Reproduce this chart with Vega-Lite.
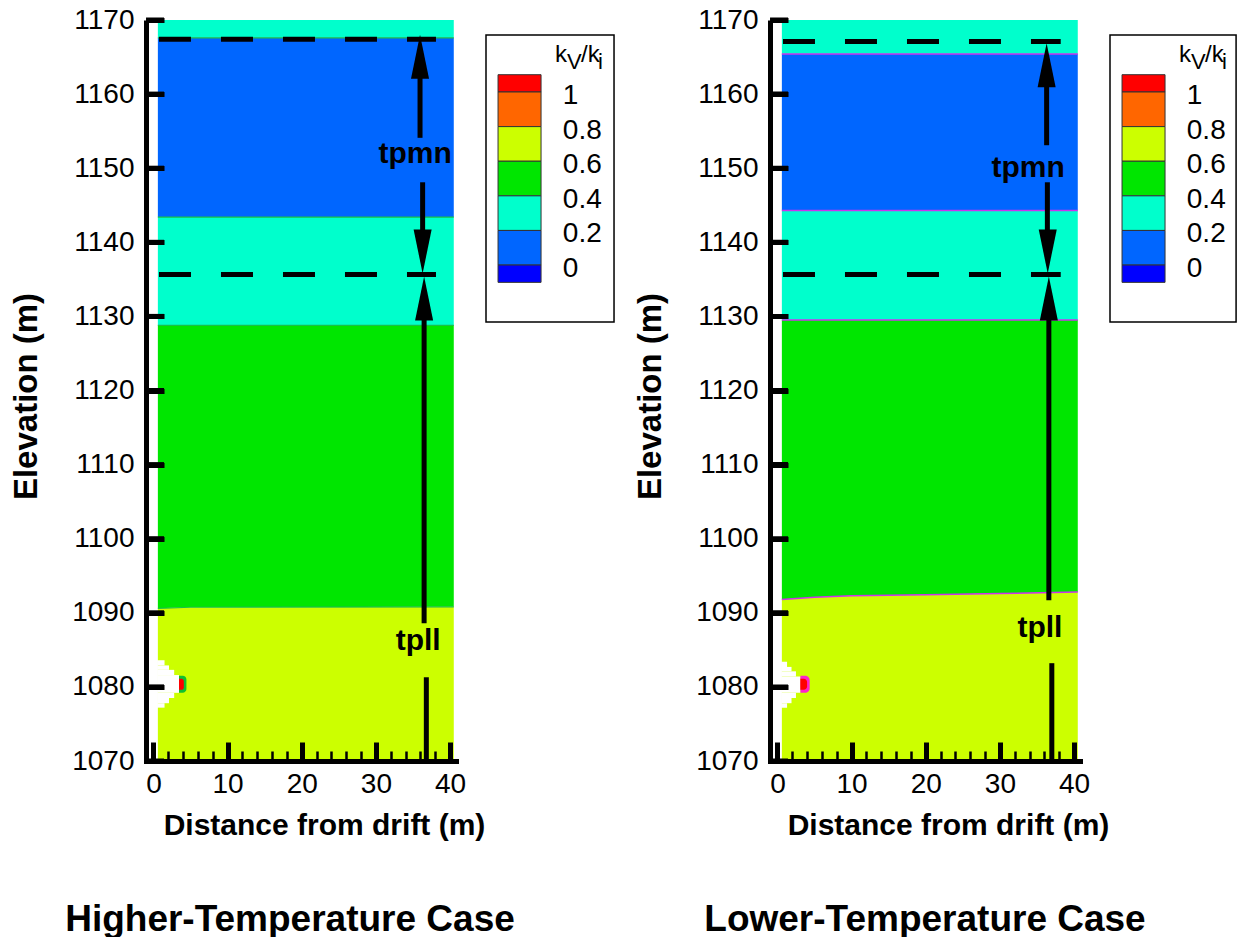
{
  "$schema": "https://vega.github.io/schema/vega-lite/v6.json",
  "padding": {"left": 10, "top": 6, "right": 0, "bottom": 0},
  "background": "white",
  "config": {
    "view": {"stroke": null},
    "text": {"font": "Liberation Sans"}
  },
  "spacing": 30,
  "bounds": "flush",
  "hconcat": [
    {
      "width": 310,
      "height": 741,
      "title": {"text": "Higher-Temperature Case", "orient": "bottom", "frame": "group", "anchor": "middle", "dx": -11, "offset": 62, "fontSize": 37, "font": "Liberation Sans", "fontWeight": "bold", "color": "black"},
      "encoding": {
        "x": {"field": "x", "type": "quantitative", "scale": {"domain": [-1, 40.8], "nice": false, "zero": false},
          "axis": {"title": "Distance from drift (m)", "values": [0,2,4,6,8,10,12,14,16,18,20,22,24,26,28,30,32,34,36,38,40],
            "labelExpr": "datum.value % 10 === 0 ? datum.label : ''", "format": "d", "zindex": 1,
            "tickSize": {"condition": {"test": "datum.value % 10 === 0", "value": -19}, "value": -10},
            "tickWidth": {"condition": {"test": "datum.value % 10 === 0", "value": 5}, "value": 2.5},
            "tickColor": "black", "domainColor": "black", "domainWidth": 5, "domainCap": "square",
            "labelFontSize": 28, "labelFont": "Liberation Sans", "labelColor": "black", "labelPadding": 28,
            "titleFontSize": 30, "titleFont": "Liberation Sans", "titleFontWeight": "bold", "titleColor": "black",
            "titleX": 178, "titleY": 73, "titleBaseline": "alphabetic", "titleAlign": "center",
            "grid": false, "labelOverlap": false, "labelFlush": false}},
        "y": {"field": "y", "type": "quantitative", "scale": {"domain": [1070, 1170], "nice": false, "zero": false},
          "axis": {"title": "Elevation (m)", "values": [1070,1080,1090,1100,1110,1120,1130,1140,1150,1160,1170], "format": "d", "zindex": 1,
            "tickSize": -18, "tickWidth": 5, "tickColor": "black", "domainColor": "black", "domainWidth": 5,
            "labelFontSize": 28, "labelFont": "Liberation Sans", "labelColor": "black", "labelPadding": 30,
            "titleFontSize": 33, "titleFont": "Liberation Sans", "titleFontWeight": "bold", "titleColor": "black",
            "titleX": -110, "titleY": 376, "titleAngle": 270, "titleBaseline": "alphabetic", "titleAlign": "center",
            "grid": false}}
      },
      "layer": [
        {
          "data": {"values": [
            {"seg": "L1", "band": "0.2-0.4", "x": 0.6, "y": 1170, "y2": 1167.6},
            {"seg": "L1", "band": "0.2-0.4", "x": 40.5, "y": 1170, "y2": 1167.6},
            {"seg": "L2", "band": "0-0.2", "x": 0.6, "y": 1167.6, "y2": 1143.4},
            {"seg": "L2", "band": "0-0.2", "x": 40.5, "y": 1167.6, "y2": 1143.4},
            {"seg": "L3", "band": "0.2-0.4", "x": 0.6, "y": 1143.4, "y2": 1128.8},
            {"seg": "L3", "band": "0.2-0.4", "x": 40.5, "y": 1143.4, "y2": 1128.8},
            {"seg": "L4", "band": "0.4-0.6", "x": 0.6, "y": 1128.8, "y2": 1090.6},
            {"seg": "L4", "band": "0.4-0.6", "x": 5, "y": 1128.8, "y2": 1090.75},
            {"seg": "L4", "band": "0.4-0.6", "x": 40.5, "y": 1128.8, "y2": 1090.8},
            {"seg": "L5", "band": "0.6-0.8", "x": 0.6, "y": 1090.6, "y2": 1070},
            {"seg": "L5", "band": "0.6-0.8", "x": 5, "y": 1090.75, "y2": 1070},
            {"seg": "L5", "band": "0.6-0.8", "x": 40.5, "y": 1090.8, "y2": 1070}
          ]},
          "mark": {"type": "area", "orient": "vertical"},
          "encoding": {
            "y2": {"field": "y2"},
            "color": {"field": "band", "type": "nominal", "legend": null,
              "scale": {"domain": ["<0","0-0.2","0.2-0.4","0.4-0.6","0.6-0.8","0.8-1",">1"], "range": ["#0000FF","#0066FF","#00FFCC","#00E600","#CCFF00","#FF6600","#FF0000"]}},
            "detail": {"field": "seg"}
          }
        },
        {
          "data": {"values": [
            {"seg": "a", "x": 0.6, "y": 1167.6}, {"seg": "a", "x": 40.5, "y": 1167.6},
            {"seg": "b", "x": 0.6, "y": 1143.4}, {"seg": "b", "x": 40.5, "y": 1143.4},
            {"seg": "c", "x": 0.6, "y": 1128.8}, {"seg": "c", "x": 40.5, "y": 1128.8},
            {"seg": "d", "x": 0.6, "y": 1090.6}, {"seg": "d", "x": 5, "y": 1090.75}, {"seg": "d", "x": 40.5, "y": 1090.8}
          ]},
          "mark": {"type": "line", "color": "#18C048", "strokeWidth": 1.2},
          "encoding": {"detail": {"field": "seg"}}
        },
        {
          "data": {"values": [
            {"x": 0.5, "x2": 1.5, "y": 1083.6, "y2": 1082.9},
            {"x": 0.5, "x2": 2.1, "y": 1082.9, "y2": 1082.3},
            {"x": 0.5, "x2": 2.8, "y": 1082.3, "y2": 1081.6},
            {"x": 0.5, "x2": 3.45, "y": 1081.6, "y2": 1079.2},
            {"x": 0.5, "x2": 2.8, "y": 1079.2, "y2": 1078.5},
            {"x": 0.5, "x2": 2.1, "y": 1078.5, "y2": 1077.8},
            {"x": 0.5, "x2": 1.5, "y": 1077.8, "y2": 1077.2}
          ]},
          "mark": {"type": "rect", "color": "white"},
          "encoding": {"x2": {"field": "x2"}, "y2": {"field": "y2"}}
        },
        {
          "data": {"values": [{"x": 3.45, "x2": 4.45, "y": 1081.5, "y2": 1079.2}]},
          "mark": {"type": "rect", "color": "#10C030", "cornerRadiusTopRight": 6, "cornerRadiusBottomRight": 6},
          "encoding": {"x2": {"field": "x2"}, "y2": {"field": "y2"}}
        },
        {
          "data": {"values": [{"x": 3.45, "x2": 4.1, "y": 1081.1, "y2": 1079.6}]},
          "mark": {"type": "rect", "color": "#FF0000", "cornerRadiusTopRight": 4, "cornerRadiusBottomRight": 4},
          "encoding": {"x2": {"field": "x2"}, "y2": {"field": "y2"}}
        },
        {
          "data": {"values": [
            {"x": 0.22, "y": 1070}, {"x": 0.22, "y": 1080}, {"x": 0.22, "y": 1090}, {"x": 0.22, "y": 1100},
            {"x": 0.22, "y": 1110}, {"x": 0.22, "y": 1120}, {"x": 0.22, "y": 1130}, {"x": 0.22, "y": 1140},
            {"x": 0.22, "y": 1150}, {"x": 0.22, "y": 1160}, {"x": 0.22, "y": 1170}
          ]},
          "mark": {"type": "tick", "orient": "horizontal", "color": "black", "size": 18, "thickness": 5, "opacity": 1}
        },
        {
          "data": {"values": [{"x": 0.75, "x2": 38.1, "y": 1167.4}, {"x": 0.75, "x2": 38.1, "y": 1135.65}]},
          "mark": {"type": "rule", "color": "black", "strokeWidth": 5, "strokeDash": [32, 30], "strokeCap": "butt"},
          "encoding": {"x2": {"field": "x2"}}
        },
        {
          "data": {"values": [
            {"x": 35.95, "y": 1154.1, "y2": 1164},
            {"x": 36.3, "y": 1148.1, "y2": 1138},
            {"x": 36.5, "y": 1088.6, "y2": 1132},
            {"x": 36.8, "y": 1081.3, "y2": 1070}
          ]},
          "mark": {"type": "rule", "color": "black", "strokeWidth": 5},
          "encoding": {"y2": {"field": "y2"}}
        },
        {
          "data": {"values": [
            {"x": 35.95, "y": 1168.0, "dir": "up"},
            {"x": 36.3, "y": 1135.8, "dir": "down"},
            {"x": 36.5, "y": 1135.4, "dir": "up"}
          ]},
          "mark": {"type": "point", "filled": true, "color": "black", "opacity": 1, "size": 1936, "strokeWidth": 0},
          "encoding": {"shape": {"field": "dir", "type": "nominal", "legend": null,
            "scale": {"domain": ["up", "down"], "range": ["M0,0L0.41,2L-0.41,2Z", "M0,0L0.41,-2L-0.41,-2Z"]}}}
        },
        {
          "data": {"values": [
            {"x": 35.3, "y": 1150.7, "label": "tpmn"},
            {"x": 35.7, "y": 1085.0, "label": "tpll"}
          ]},
          "mark": {"type": "text", "font": "Liberation Sans", "fontSize": 30, "fontWeight": "bold", "color": "black", "align": "center", "baseline": "alphabetic"},
          "encoding": {"text": {"field": "label"}}
        }
      ]
    },
    {
      "width": 254,
      "height": 302,
      "layer": [
        {
          "data": {"values": [{}]},
          "mark": {"type": "rect", "fill": "white", "stroke": "black", "strokeWidth": 1.5},
          "encoding": {
            "x": {"datum": 0, "type": "quantitative", "scale": {"domain": [0, 1.984], "nice": false, "zero": false}, "axis": null},
            "x2": {"datum": 1},
            "y": {"datum": -0.329, "type": "quantitative", "scale": {"domain": [-0.329, 1.416], "nice": false, "zero": false}, "axis": null},
            "y2": {"datum": 1.329}
          }
        },
        {
          "data": {"values": [
            {"band": ">1", "lo": 1.0, "hi": 1.1},
            {"band": "0.8-1", "lo": 0.8, "hi": 1.0},
            {"band": "0.6-0.8", "lo": 0.6, "hi": 0.8},
            {"band": "0.4-0.6", "lo": 0.4, "hi": 0.6},
            {"band": "0.2-0.4", "lo": 0.2, "hi": 0.4},
            {"band": "0-0.2", "lo": 0.0, "hi": 0.2},
            {"band": "<0", "lo": -0.1, "hi": 0.0}
          ]},
          "mark": {"type": "rect", "stroke": "#333333", "strokeWidth": 1},
          "encoding": {
            "x": {"datum": 0.094, "type": "quantitative", "scale": {"domain": [0, 1.984], "nice": false, "zero": false}, "axis": null},
            "x2": {"datum": 0.43},
            "y": {"field": "lo", "type": "quantitative", "scale": {"domain": [-0.329, 1.416], "nice": false, "zero": false}, "axis": null},
            "y2": {"field": "hi"},
            "color": {"field": "band", "type": "nominal", "legend": null,
              "scale": {"domain": ["<0","0-0.2","0.2-0.4","0.4-0.6","0.6-0.8","0.8-1",">1"], "range": ["#0000FF","#0066FF","#00FFCC","#00E600","#CCFF00","#FF6600","#FF0000"]}}
          }
        },
        {
          "data": {"values": [
            {"v": 1.0, "t": "1"}, {"v": 0.8, "t": "0.8"}, {"v": 0.6, "t": "0.6"},
            {"v": 0.4, "t": "0.4"}, {"v": 0.2, "t": "0.2"}, {"v": 0.0, "t": "0"}
          ]},
          "mark": {"type": "text", "font": "Liberation Sans", "fontSize": 28, "color": "black", "align": "left", "baseline": "middle", "dy": 4},
          "encoding": {
            "x": {"datum": 0.6, "type": "quantitative", "scale": {"domain": [0, 1.984], "nice": false, "zero": false}, "axis": null},
            "y": {"field": "v", "type": "quantitative", "scale": {"domain": [-0.329, 1.416], "nice": false, "zero": false}, "axis": null},
            "text": {"field": "t"}
          }
        },
        {
          "data": {"values": [{"t": "k", "p": 0.539}, {"t": "/k", "p": 0.742}]},
          "mark": {"type": "text", "font": "Liberation Sans", "fontSize": 24, "color": "black", "align": "left", "baseline": "alphabetic"},
          "encoding": {
            "x": {"field": "p", "type": "quantitative", "scale": {"domain": [0, 1.984], "nice": false, "zero": false}, "axis": null},
            "y": {"datum": 1.173, "type": "quantitative", "scale": {"domain": [-0.329, 1.416], "nice": false, "zero": false}, "axis": null},
            "text": {"field": "t"}
          }
        },
        {
          "data": {"values": [{"t": "V", "p": 0.633}, {"t": "i", "p": 0.875}]},
          "mark": {"type": "text", "font": "Liberation Sans", "fontSize": 22, "color": "black", "align": "left", "baseline": "alphabetic"},
          "encoding": {
            "x": {"field": "p", "type": "quantitative", "scale": {"domain": [0, 1.984], "nice": false, "zero": false}, "axis": null},
            "y": {"datum": 1.133, "type": "quantitative", "scale": {"domain": [-0.329, 1.416], "nice": false, "zero": false}, "axis": null},
            "text": {"field": "t"}
          }
        }
      ]
    },
    {
      "width": 310,
      "height": 741,
      "title": {"text": "Lower-Temperature Case", "orient": "bottom", "frame": "group", "anchor": "middle", "dx": 0, "offset": 62, "fontSize": 37, "font": "Liberation Sans", "fontWeight": "bold", "color": "black"},
      "encoding": {
        "x": {"field": "x", "type": "quantitative", "scale": {"domain": [-1, 40.8], "nice": false, "zero": false},
          "axis": {"title": "Distance from drift (m)", "values": [0,2,4,6,8,10,12,14,16,18,20,22,24,26,28,30,32,34,36,38,40],
            "labelExpr": "datum.value % 10 === 0 ? datum.label : ''", "format": "d", "zindex": 1,
            "tickSize": {"condition": {"test": "datum.value % 10 === 0", "value": -19}, "value": -10},
            "tickWidth": {"condition": {"test": "datum.value % 10 === 0", "value": 5}, "value": 2.5},
            "tickColor": "black", "domainColor": "black", "domainWidth": 5, "domainCap": "square",
            "labelFontSize": 28, "labelFont": "Liberation Sans", "labelColor": "black", "labelPadding": 28,
            "titleFontSize": 30, "titleFont": "Liberation Sans", "titleFontWeight": "bold", "titleColor": "black",
            "titleX": 178, "titleY": 73, "titleBaseline": "alphabetic", "titleAlign": "center",
            "grid": false, "labelOverlap": false, "labelFlush": false}},
        "y": {"field": "y", "type": "quantitative", "scale": {"domain": [1070, 1170], "nice": false, "zero": false},
          "axis": {"title": "Elevation (m)", "values": [1070,1080,1090,1100,1110,1120,1130,1140,1150,1160,1170], "format": "d", "zindex": 1,
            "tickSize": -18, "tickWidth": 5, "tickColor": "black", "domainColor": "black", "domainWidth": 5,
            "labelFontSize": 28, "labelFont": "Liberation Sans", "labelColor": "black", "labelPadding": 30,
            "titleFontSize": 33, "titleFont": "Liberation Sans", "titleFontWeight": "bold", "titleColor": "black",
            "titleX": -110, "titleY": 376, "titleAngle": 270, "titleBaseline": "alphabetic", "titleAlign": "center",
            "grid": false}}
      },
      "layer": [
        {
          "data": {"values": [
            {"seg": "R1", "band": "0.2-0.4", "x": 0.6, "y": 1170, "y2": 1165.4},
            {"seg": "R1", "band": "0.2-0.4", "x": 40.5, "y": 1170, "y2": 1165.4},
            {"seg": "R2", "band": "0-0.2", "x": 0.6, "y": 1165.4, "y2": 1144.3},
            {"seg": "R2", "band": "0-0.2", "x": 40.5, "y": 1165.4, "y2": 1144.3},
            {"seg": "R3", "band": "0.2-0.4", "x": 0.6, "y": 1144.3, "y2": 1129.5},
            {"seg": "R3", "band": "0.2-0.4", "x": 40.5, "y": 1144.3, "y2": 1129.5},
            {"seg": "R4", "band": "0.4-0.6", "x": 0.6, "y": 1129.5, "y2": 1091.8},
            {"seg": "R4", "band": "0.4-0.6", "x": 5, "y": 1129.5, "y2": 1092.1},
            {"seg": "R4", "band": "0.4-0.6", "x": 10, "y": 1129.5, "y2": 1092.3},
            {"seg": "R4", "band": "0.4-0.6", "x": 20, "y": 1129.5, "y2": 1092.45},
            {"seg": "R4", "band": "0.4-0.6", "x": 30, "y": 1129.5, "y2": 1092.6},
            {"seg": "R4", "band": "0.4-0.6", "x": 40.5, "y": 1129.5, "y2": 1092.8},
            {"seg": "R5", "band": "0.6-0.8", "x": 0.6, "y": 1091.8, "y2": 1070},
            {"seg": "R5", "band": "0.6-0.8", "x": 5, "y": 1092.1, "y2": 1070},
            {"seg": "R5", "band": "0.6-0.8", "x": 10, "y": 1092.3, "y2": 1070},
            {"seg": "R5", "band": "0.6-0.8", "x": 20, "y": 1092.45, "y2": 1070},
            {"seg": "R5", "band": "0.6-0.8", "x": 30, "y": 1092.6, "y2": 1070},
            {"seg": "R5", "band": "0.6-0.8", "x": 40.5, "y": 1092.8, "y2": 1070}
          ]},
          "mark": {"type": "area", "orient": "vertical"},
          "encoding": {
            "y2": {"field": "y2"},
            "color": {"field": "band", "type": "nominal", "legend": null,
              "scale": {"domain": ["<0","0-0.2","0.2-0.4","0.4-0.6","0.6-0.8","0.8-1",">1"], "range": ["#0000FF","#0066FF","#00FFCC","#00E600","#CCFF00","#FF6600","#FF0000"]}},
            "detail": {"field": "seg"}
          }
        },
        {
          "data": {"values": [
            {"seg": "a", "x": 0.6, "y": 1165.4}, {"seg": "a", "x": 40.5, "y": 1165.4},
            {"seg": "b", "x": 0.6, "y": 1144.3}, {"seg": "b", "x": 40.5, "y": 1144.3},
            {"seg": "c", "x": 0.6, "y": 1129.5}, {"seg": "c", "x": 40.5, "y": 1129.5},
            {"seg": "d", "x": 0.6, "y": 1091.8}, {"seg": "d", "x": 5, "y": 1092.1}, {"seg": "d", "x": 10, "y": 1092.3},
            {"seg": "d", "x": 20, "y": 1092.45}, {"seg": "d", "x": 30, "y": 1092.6}, {"seg": "d", "x": 40.5, "y": 1092.8}
          ]},
          "mark": {"type": "line", "color": "#CC33EE", "strokeWidth": 1.5},
          "encoding": {"detail": {"field": "seg"}}
        },
        {
          "data": {"values": [
            {"x": 0.5, "x2": 1.3, "y": 1083.4, "y2": 1082.7},
            {"x": 0.5, "x2": 1.9, "y": 1082.7, "y2": 1082.1},
            {"x": 0.5, "x2": 2.5, "y": 1082.1, "y2": 1081.4},
            {"x": 0.5, "x2": 3.1, "y": 1081.4, "y2": 1079.2},
            {"x": 0.5, "x2": 2.5, "y": 1079.2, "y2": 1078.5},
            {"x": 0.5, "x2": 1.9, "y": 1078.5, "y2": 1077.8},
            {"x": 0.5, "x2": 1.3, "y": 1077.8, "y2": 1077.2}
          ]},
          "mark": {"type": "rect", "color": "white"},
          "encoding": {"x2": {"field": "x2"}, "y2": {"field": "y2"}}
        },
        {
          "data": {"values": [{"x": 3.1, "x2": 4.35, "y": 1081.5, "y2": 1079.2}]},
          "mark": {"type": "rect", "color": "#FF22CC", "cornerRadiusTopRight": 6, "cornerRadiusBottomRight": 6},
          "encoding": {"x2": {"field": "x2"}, "y2": {"field": "y2"}}
        },
        {
          "data": {"values": [{"x": 3.1, "x2": 4.0, "y": 1081.1, "y2": 1079.6}]},
          "mark": {"type": "rect", "color": "#FF0000", "cornerRadiusTopRight": 4, "cornerRadiusBottomRight": 4},
          "encoding": {"x2": {"field": "x2"}, "y2": {"field": "y2"}}
        },
        {
          "data": {"values": [
            {"x": 0.22, "y": 1070}, {"x": 0.22, "y": 1080}, {"x": 0.22, "y": 1090}, {"x": 0.22, "y": 1100},
            {"x": 0.22, "y": 1110}, {"x": 0.22, "y": 1120}, {"x": 0.22, "y": 1130}, {"x": 0.22, "y": 1140},
            {"x": 0.22, "y": 1150}, {"x": 0.22, "y": 1160}, {"x": 0.22, "y": 1170}
          ]},
          "mark": {"type": "tick", "orient": "horizontal", "color": "black", "size": 18, "thickness": 5, "opacity": 1}
        },
        {
          "data": {"values": [{"x": 0.75, "x2": 38.2, "y": 1167.1}, {"x": 0.75, "x2": 38.2, "y": 1135.65}]},
          "mark": {"type": "rule", "color": "black", "strokeWidth": 5, "strokeDash": [32, 30], "strokeCap": "butt"},
          "encoding": {"x2": {"field": "x2"}}
        },
        {
          "data": {"values": [
            {"x": 36.3, "y": 1153.1, "y2": 1164},
            {"x": 36.4, "y": 1148.1, "y2": 1138},
            {"x": 36.6, "y": 1091.7, "y2": 1132},
            {"x": 37.0, "y": 1083.2, "y2": 1070}
          ]},
          "mark": {"type": "rule", "color": "black", "strokeWidth": 5},
          "encoding": {"y2": {"field": "y2"}}
        },
        {
          "data": {"values": [
            {"x": 36.3, "y": 1166.85, "dir": "up"},
            {"x": 36.45, "y": 1135.8, "dir": "down"},
            {"x": 36.6, "y": 1135.4, "dir": "up"}
          ]},
          "mark": {"type": "point", "filled": true, "color": "black", "opacity": 1, "size": 1936, "strokeWidth": 0},
          "encoding": {"shape": {"field": "dir", "type": "nominal", "legend": null,
            "scale": {"domain": ["up", "down"], "range": ["M0,0L0.41,2L-0.41,2Z", "M0,0L0.41,-2L-0.41,-2Z"]}}}
        },
        {
          "data": {"values": [
            {"x": 33.8, "y": 1148.8, "label": "tpmn"},
            {"x": 35.4, "y": 1086.7, "label": "tpll"}
          ]},
          "mark": {"type": "text", "font": "Liberation Sans", "fontSize": 30, "fontWeight": "bold", "color": "black", "align": "center", "baseline": "alphabetic"},
          "encoding": {"text": {"field": "label"}}
        }
      ]
    },
    {
      "width": 128,
      "height": 302,
      "layer": [
        {
          "data": {"values": [{}]},
          "mark": {"type": "rect", "fill": "white", "stroke": "black", "strokeWidth": 1.5},
          "encoding": {
            "x": {"datum": 0, "type": "quantitative", "scale": {"domain": [0, 1], "nice": false, "zero": false}, "axis": null},
            "x2": {"datum": 0.985},
            "y": {"datum": -0.329, "type": "quantitative", "scale": {"domain": [-0.329, 1.416], "nice": false, "zero": false}, "axis": null},
            "y2": {"datum": 1.329}
          }
        },
        {
          "data": {"values": [
            {"band": ">1", "lo": 1.0, "hi": 1.1},
            {"band": "0.8-1", "lo": 0.8, "hi": 1.0},
            {"band": "0.6-0.8", "lo": 0.6, "hi": 0.8},
            {"band": "0.4-0.6", "lo": 0.4, "hi": 0.6},
            {"band": "0.2-0.4", "lo": 0.2, "hi": 0.4},
            {"band": "0-0.2", "lo": 0.0, "hi": 0.2},
            {"band": "<0", "lo": -0.1, "hi": 0.0}
          ]},
          "mark": {"type": "rect", "stroke": "#333333", "strokeWidth": 1},
          "encoding": {
            "x": {"datum": 0.094, "type": "quantitative", "scale": {"domain": [0, 1], "nice": false, "zero": false}, "axis": null},
            "x2": {"datum": 0.43},
            "y": {"field": "lo", "type": "quantitative", "scale": {"domain": [-0.329, 1.416], "nice": false, "zero": false}, "axis": null},
            "y2": {"field": "hi"},
            "color": {"field": "band", "type": "nominal", "legend": null,
              "scale": {"domain": ["<0","0-0.2","0.2-0.4","0.4-0.6","0.6-0.8","0.8-1",">1"], "range": ["#0000FF","#0066FF","#00FFCC","#00E600","#CCFF00","#FF6600","#FF0000"]}}
          }
        },
        {
          "data": {"values": [
            {"v": 1.0, "t": "1"}, {"v": 0.8, "t": "0.8"}, {"v": 0.6, "t": "0.6"},
            {"v": 0.4, "t": "0.4"}, {"v": 0.2, "t": "0.2"}, {"v": 0.0, "t": "0"}
          ]},
          "mark": {"type": "text", "font": "Liberation Sans", "fontSize": 28, "color": "black", "align": "left", "baseline": "middle", "dy": 4},
          "encoding": {
            "x": {"datum": 0.6, "type": "quantitative", "scale": {"domain": [0, 1], "nice": false, "zero": false}, "axis": null},
            "y": {"field": "v", "type": "quantitative", "scale": {"domain": [-0.329, 1.416], "nice": false, "zero": false}, "axis": null},
            "text": {"field": "t"}
          }
        },
        {
          "data": {"values": [{"t": "k", "p": 0.539}, {"t": "/k", "p": 0.742}]},
          "mark": {"type": "text", "font": "Liberation Sans", "fontSize": 24, "color": "black", "align": "left", "baseline": "alphabetic"},
          "encoding": {
            "x": {"field": "p", "type": "quantitative", "scale": {"domain": [0, 1], "nice": false, "zero": false}, "axis": null},
            "y": {"datum": 1.173, "type": "quantitative", "scale": {"domain": [-0.329, 1.416], "nice": false, "zero": false}, "axis": null},
            "text": {"field": "t"}
          }
        },
        {
          "data": {"values": [{"t": "V", "p": 0.633}, {"t": "i", "p": 0.875}]},
          "mark": {"type": "text", "font": "Liberation Sans", "fontSize": 22, "color": "black", "align": "left", "baseline": "alphabetic"},
          "encoding": {
            "x": {"field": "p", "type": "quantitative", "scale": {"domain": [0, 1], "nice": false, "zero": false}, "axis": null},
            "y": {"datum": 1.133, "type": "quantitative", "scale": {"domain": [-0.329, 1.416], "nice": false, "zero": false}, "axis": null},
            "text": {"field": "t"}
          }
        }
      ]
    }
  ]
}
